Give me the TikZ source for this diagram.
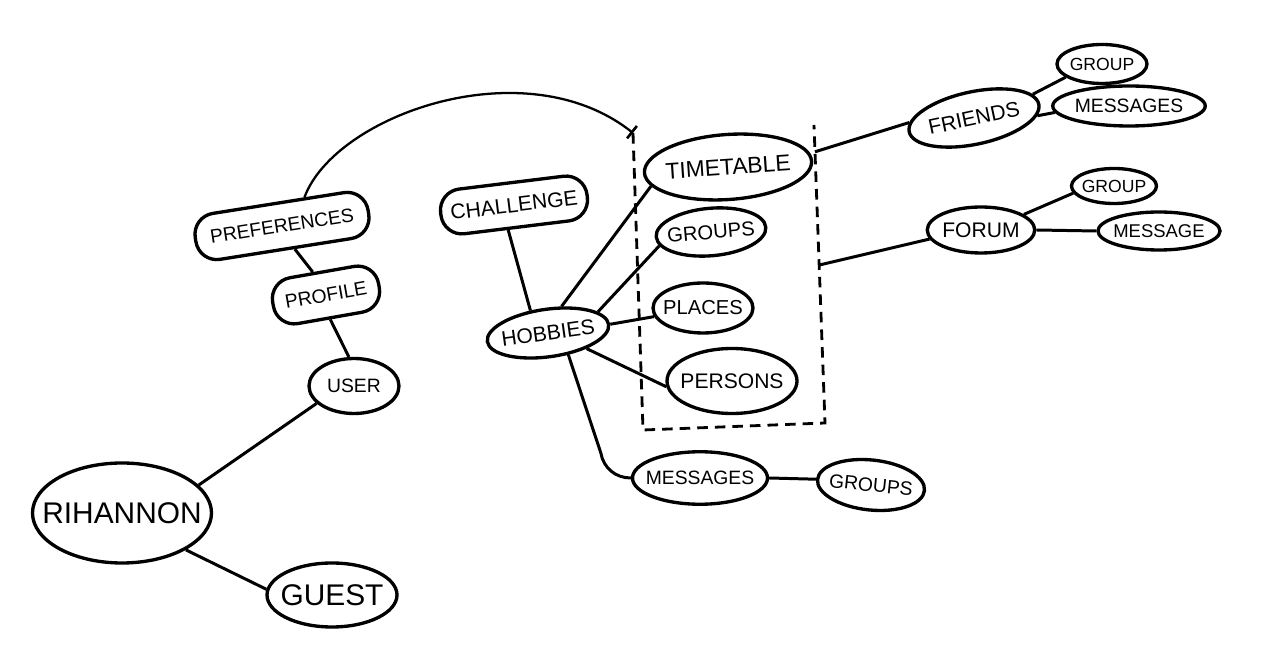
\documentclass[tikz,border=0pt]{standalone}
\usepackage{fontspec}
\setmainfont{Liberation Sans}
\usetikzlibrary{positioning, arrows.meta, calc, shapes.geometric}

\newcommand{\fsz}[1]{\fontsize{#1}{#1}\selectfont}

\begin{document}
\begin{tikzpicture}[
  bub/.style={ellipse, draw, line width=1.9pt, inner xsep=-12pt, inner ysep=-6pt},
  pill/.style={rectangle, draw, line width=1.9pt, rounded corners=12pt, inner sep=0pt},
  link/.style={line width=1.7pt}
]
\useasboundingbox (0,0) rectangle (25.36,-13.26);

% --- User side ---
\node[bub, minimum width=3.58cm, minimum height=2.0cm, font=\fsz{17}] (rih) at (2.44,-10.26) {RIHANNON};
\node[bub, minimum width=2.6cm, minimum height=1.28cm, font=\fsz{17}] (guest) at (6.64,-11.9) {GUEST};
\node[bub, minimum width=1.8cm, minimum height=1.1cm, font=\fsz{11}] (user) at (7.08,-7.72) {USER};
\node[pill, minimum width=2.15cm, minimum height=0.93cm, rotate=10, font=\fsz{11}] (prof) at (6.52,-5.9) {PROFILE};
\node[pill, minimum width=3.5cm, minimum height=0.93cm, rotate=9, font=\fsz{11}] (pref) at (5.64,-4.52) {PREFERENCES};

% --- Hobbies ---
\node[pill, minimum width=2.95cm, minimum height=0.9cm, rotate=7, font=\fsz{12}] (chal) at (10.28,-4.1) {CHALLENGE};
\node[bub, minimum width=2.45cm, minimum height=0.95cm, rotate=8, font=\fsz{12}] (hob) at (10.96,-6.66) {HOBBIES};
\node[bub, minimum width=3.35cm, minimum height=1.3cm, rotate=4, font=\fsz{13}] (time) at (14.56,-3.34) {TIMETABLE};
\node[bub, minimum width=2.2cm, minimum height=0.95cm, rotate=5, font=\fsz{11.5}] (grp) at (14.22,-4.64) {GROUPS};
\node[bub, minimum width=2.0cm, minimum height=1.0cm, font=\fsz{11.5}] (plc) at (14.06,-6.16) {PLACES};
\node[bub, minimum width=2.6cm, minimum height=1.3cm, font=\fsz{12}] (pers) at (14.64,-7.62) {PERSONS};
\node[bub, minimum width=2.7cm, minimum height=1.05cm, font=\fsz{11}] (msgb) at (14.0,-9.56) {MESSAGES};
\node[bub, minimum width=2.15cm, minimum height=1.0cm, rotate=-6, font=\fsz{11}] (grpb) at (17.42,-9.7) {GROUPS};

% --- Dashed group ---
\coordinate (tl) at (12.66,-2.66);
\coordinate (bl) at (12.86,-8.6);
\coordinate (br) at (16.5,-8.46);
\coordinate (tr) at (16.28,-2.5);
\draw[line width=1.6pt, dash pattern=on 6pt off 4pt] (tl) -- (bl) -- (br) -- (tr);

% --- Friends and forum ---
\node[bub, minimum width=2.65cm, minimum height=1.05cm, rotate=12, font=\fsz{12}] (fr) at (19.48,-2.36) {FRIENDS};
\node[bub, minimum width=1.8cm, minimum height=0.78cm, font=\fsz{10}] (grp1) at (22.04,-1.28) {GROUP};
\node[bub, minimum width=3.05cm, minimum height=0.8cm, font=\fsz{11}] (msg1) at (22.58,-2.12) {MESSAGES};
\node[bub, minimum width=2.15cm, minimum height=0.92cm, font=\fsz{12}] (fo) at (19.62,-4.6) {FORUM};
\node[bub, minimum width=1.7cm, minimum height=0.7cm, font=\fsz{10}] (grp2) at (22.28,-3.72) {GROUP};
\node[bub, minimum width=2.44cm, minimum height=0.76cm, font=\fsz{10.5}] (msg2) at (23.18,-4.62) {MESSAGE};

% --- Links ---
\draw[link] (rih.20) -- (user.205);
\draw[link] (rih.-30) -- (guest.175);
\draw[link] (user.100) -- (prof.south);
\draw[link] (prof.110) -- (pref.-70);
\draw[link] (chal.-110) -- (hob.120);
\draw[link] (hob.55) -- (time.190);
\draw[link] (hob.15) -- (grp.190);
\draw[link] (hob.0) -- (plc.190);
\draw[link] (hob.-30) -- (pers.185);
\draw[link] (hob.-55) -- ($(msgb.west)+(-0.6,0.5)$) to[out=-80, in=180] (msgb.west);
\draw[link] (msgb.east) -- (grpb.west);
\draw[link] ($(tr)!0.09!(br)$) -- (fr.172);
\draw[link] ($(tr)!0.47!(br)$) -- (fo.190);
\draw[link] (fr.10) -- (grp1.200);
\draw[link] (fr.-10) -- (msg1.185);
\draw[link] (fo.20) -- (grp2.190);
\draw[link] (fo.east) -- (msg2.west);

% --- Arrow to group ---
\draw[line width=1.3pt, -{Bar[width=9pt, line width=1.5pt]}] (pref.43)
  .. controls (6.7,-2.3) and (10.5,-0.95) .. (tl);

\end{tikzpicture}
\end{document}
